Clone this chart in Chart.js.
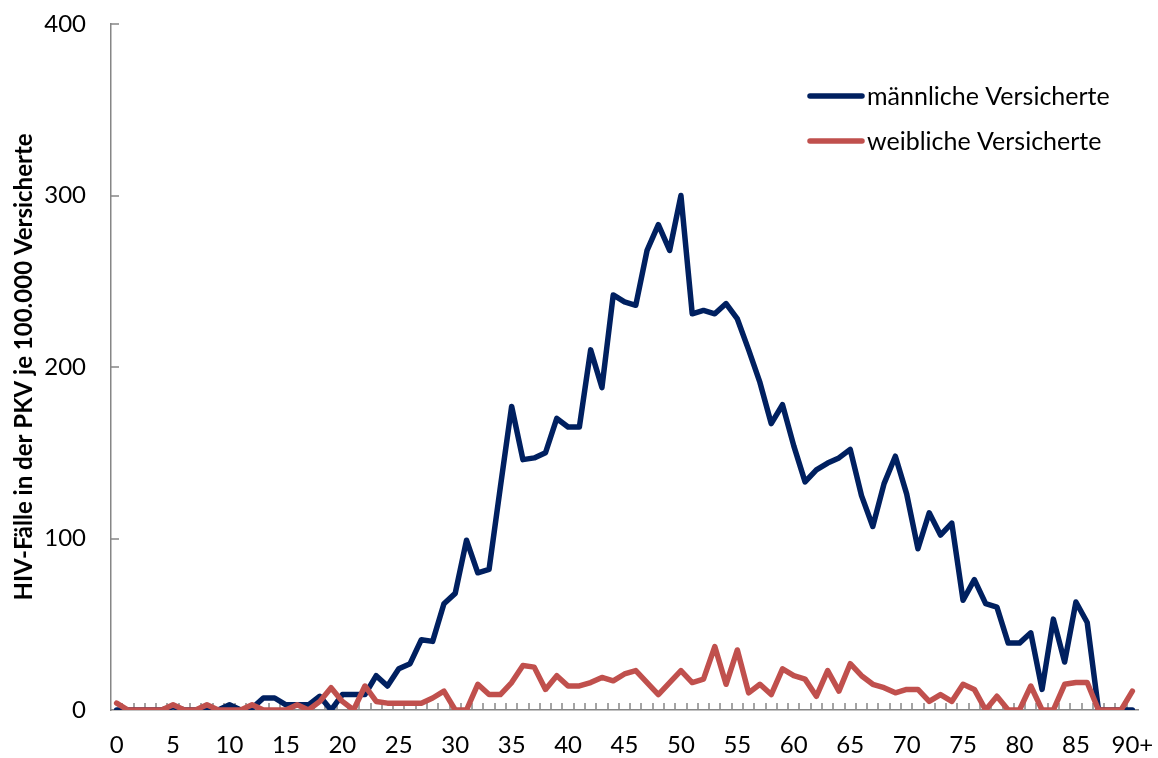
<!DOCTYPE html>
<html>
<head>
<meta charset="utf-8">
<script src="https://cdn.jsdelivr.net/npm/chart.js@4.4.1/dist/chart.umd.min.js"></script>
<style>
html, body { margin: 0; padding: 0; background: #fff; }
#wrap { position: relative; width: 1158px; height: 758px; }
</style>
</head>
<body>
<div id="wrap"><canvas id="hivChart"></canvas></div>
<script>
// Alter (Kategorien) und HIV-Fälle je 100.000 Versicherte
const ages = [
    '0','1','2','3','4','5','6','7','8','9',
    '10','11','12','13','14','15','16','17','18','19',
    '20','21','22','23','24','25','26','27','28','29',
    '30','31','32','33','34','35','36','37','38','39',
    '40','41','42','43','44','45','46','47','48','49',
    '50','51','52','53','54','55','56','57','58','59',
    '60','61','62','63','64','65','66','67','68','69',
    '70','71','72','73','74','75','76','77','78','79',
    '80','81','82','83','84','85','86','87','88','89',
    '90+'
];
const male = [
    0, 0, 0, 0, 0, 2, 0, 0, 1, 0,
    3, 0, 1, 7, 7, 3, 3, 3, 8, 0,
    9, 9, 9, 20, 14, 24, 27, 41, 40, 62,
    68, 99, 80, 82, 130, 177, 146, 147, 150, 170,
    165, 165, 210, 188, 242, 238, 236, 268, 283, 268,
    300, 231, 233, 231, 237, 228, 210, 191, 167, 178,
    154, 133, 140, 144, 147, 152, 125, 107, 132, 148,
    126, 94, 115, 102, 109, 64, 76, 62, 60, 39,
    39, 45, 12, 53, 28, 63, 51, 0, 0, 0,
    0
];
const female = [
    4, 0, 0, 0, 0, 3, 0, 0, 3, 0,
    0, 0, 3, 0, 0, 0, 3, 0, 5, 13,
    5, 0, 14, 5, 4, 4, 4, 4, 7, 11,
    0, 0, 15, 9, 9, 16, 26, 25, 12, 20,
    14, 14, 16, 19, 17, 21, 23, 16, 9, 16,
    23, 16, 18, 37, 15, 35, 10, 15, 9, 24,
    20, 18, 8, 23, 11, 27, 20, 15, 13, 10,
    12, 12, 5, 9, 5, 15, 12, 0, 8, 0,
    0, 14, 0, 0, 15, 16, 16, 0, 0, 0,
    11
];
const xLabelAges = ['0', '5', '10', '15', '20', '25', '30', '35', '40', '45', '50', '55', '60', '65', '70', '75', '80', '85', '90+'];
const yTickValues = [0, 100, 200, 300, 400];
const seriesNames = ['männliche Versicherte', 'weibliche Versicherte'];

const axisGrey = '#868686';
const tickFont = { family: 'Lato', size: 24 };

// kleine Striche nach innen, wie im Excel-Diagramm
const innerTicks = {
    id: 'innerTicks',
    beforeDatasetsDraw(chart) {
        const ctx = chart.ctx;
        const xs = chart.scales.x;
        const ys = chart.scales.y;
        ctx.save();
        ctx.strokeStyle = axisGrey;
        ctx.lineWidth = 1.5;
        ctx.beginPath();
        for (let i = 0; i < ages.length - 1; i++) {
            const px = Math.round(xs.getPixelForValue(i + 0.5));
            ctx.moveTo(px, ys.bottom);
            ctx.lineTo(px, ys.bottom - 7);
        }
        yTickValues.forEach(function(v) {
            if (v === 0) return;
            const py = Math.round(ys.getPixelForValue(v));
            ctx.moveTo(xs.left, py);
            ctx.lineTo(xs.left + 8, py);
        });
        ctx.stroke();
        ctx.restore();
    }
};

// Legende oben rechts im Diagramm
const cornerLegend = {
    id: 'cornerLegend',
    afterDraw(chart) {
        const ctx = chart.ctx;
        ctx.save();
        chart.data.datasets.forEach(function(ds, k) {
            const y = 96 + k * 45;
            ctx.strokeStyle = ds.borderColor;
            ctx.lineWidth = 5.5;
            ctx.lineCap = 'round';
            ctx.beginPath();
            ctx.moveTo(810, y);
            ctx.lineTo(862, y);
            ctx.stroke();
            ctx.fillStyle = '#000';
            ctx.font = '25px Lato';
            ctx.textBaseline = 'middle';
            ctx.fillText(ds.label, 867, y + 1);
        });
        ctx.restore();
    }
};

const ctx = document.getElementById('hivChart');
const hivChart = new Chart(ctx, {
    type: 'line',
    data: {
        datasets: [
            {
                label: seriesNames[0],
                data: male.map(function(v, i) { return { x: i, y: v }; }),
                borderColor: '#002060',
                borderWidth: 5.5,
                borderJoinStyle: 'round',
                borderCapStyle: 'round',
                pointRadius: 0,
                fill: false,
                tension: 0,
                order: 1
            },
            {
                label: seriesNames[1],
                data: female.map(function(v, i) { return { x: i, y: v }; }),
                borderColor: '#C0504D',
                borderWidth: 5.5,
                borderJoinStyle: 'round',
                borderCapStyle: 'round',
                pointRadius: 0,
                fill: false,
                tension: 0,
                order: 0
            }
        ]
    },
    options: {
        responsive: true,
        maintainAspectRatio: false,
        animation: false,
        layout: { padding: { top: 24, right: 20, left: 0, bottom: 0 } },
        plugins: {
            legend: { display: false },
            tooltip: { enabled: false }
        },
        scales: {
            x: {
                type: 'linear',
                min: -0.5,
                max: 90.5,
                afterBuildTicks: function(axis) {
                    axis.ticks = xLabelAges.map(function(a) { return { value: ages.indexOf(a) }; });
                },
                afterFit: function(axis) {
                    axis.height = 48;
                    axis.paddingLeft = 0;
                    axis.paddingRight = 0;
                },
                grid: { drawOnChartArea: false, drawTicks: false },
                border: { color: axisGrey, width: 1.5 },
                ticks: {
                    autoSkip: false,
                    maxRotation: 0,
                    padding: 21,
                    color: '#000',
                    font: tickFont,
                    callback: function(value) { return ages[value]; }
                }
            },
            y: {
                min: 0,
                max: 400,
                afterBuildTicks: function(axis) {
                    axis.ticks = yTickValues.map(function(v) { return { value: v }; });
                },
                afterFit: function(axis) {
                    axis.width = 111;
                    axis.paddingTop = 0;
                    axis.paddingBottom = 0;
                },
                grid: { drawOnChartArea: false, drawTicks: false },
                border: { color: axisGrey, width: 1.5 },
                ticks: {
                    padding: 25,
                    color: '#000',
                    font: tickFont
                },
                title: {
                    display: true,
                    text: 'HIV-Fälle in der PKV je 100.000 Versicherte',
                    color: '#000',
                    font: { family: 'Lato', size: 24, weight: 'bold' },
                    padding: { top: 10, bottom: 0 }
                }
            }
        }
    },
    plugins: [innerTicks, cornerLegend]
});
</script>
</body>
</html>
